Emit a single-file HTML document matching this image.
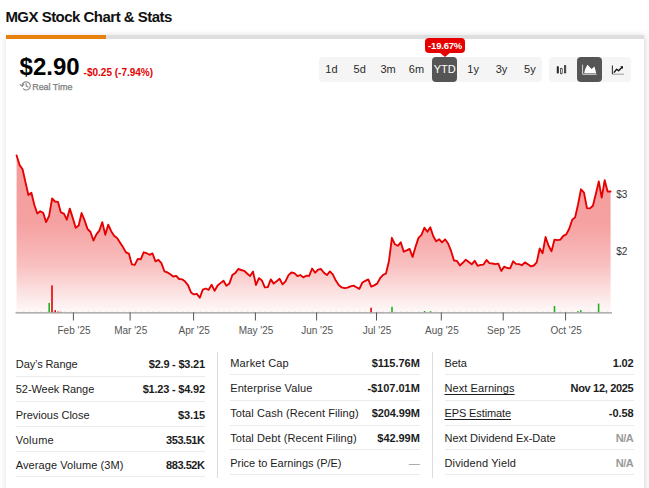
<!DOCTYPE html>
<html lang="en">
<head>
<meta charset="utf-8">
<title>MGX Stock Chart &amp; Stats</title>
<style>
  html, body { margin: 0; padding: 0; }
  body {
    width: 649px; height: 488px; overflow: hidden; position: relative;
    background: #fff; color: #1c1c1c;
    font-family: "Liberation Sans", sans-serif;
  }
  .abs { position: absolute; white-space: nowrap; line-height: 1; }

  /* title */
  #title { left: 5.4px; top: 9.1px; font-size: 15px; font-weight: bold; letter-spacing: -0.52px; color: #111; }

  /* card */
  #card { left: 6px; top: 35px; width: 638.4px; height: 470px; background: #fff;
          box-shadow: 1px 1px 7px rgba(0,0,0,0.17); }
  #bar { left: 0; top: 0; width: 638.4px; height: 4px; background: #dedede; }
  #bar i { display: block; width: 100px; height: 4px; background: #e8800c; }

  /* price header */
  #price { left: 19.6px; top: 55.2px; font-size: 24px; font-weight: bold; letter-spacing: 0px; color: #000; }
  #chg { left: 83.6px; top: 67.7px; font-size: 10px; font-weight: bold; color: #e60000; }
  #rt { left: 32.2px; top: 83.4px; font-size: 9px; color: #7d7d7d; letter-spacing: -0.04px; -webkit-text-stroke: 0.25px #7d7d7d; }

  /* button groups */
  .grp { top: 57.2px; height: 24.7px; background: #f5f5f5; border-radius: 4px; }
  #periods { left: 319.1px; width: 222.6px; }
  #types { left: 549.3px; width: 81.4px; }
  .btn { position: absolute; top: 0; width: 24.6px; height: 24.7px; border-radius: 4px;
         font-size: 11px; line-height: 24.7px; text-align: center; color: #2b2b2b; }
  .btn.on { background: #555; color: #fff; }

  /* tooltip */
  #tip { left: 425.2px; top: 38.1px; width: 39.8px; height: 14.6px; background: #e60000; border-radius: 4px;
         color: #fff; font-size: 9.5px; font-weight: bold; text-align: center; line-height: 15.4px; letter-spacing: -0.2px; }
  #tip:after { content: ""; position: absolute; left: 13.6px; top: 14.4px; border: 6px solid transparent;
         border-top: 5.6px solid #e60000; border-bottom: 0; }

  /* table */
  .tl, .tv { position: absolute; font-size: 11px; line-height: 13px; white-space: nowrap; color: #1c1c1c; }
  .tv.na { color: #9a9a9a; }
  .tl.u { text-decoration: underline; text-underline-offset: 1.5px; text-decoration-thickness: 1px; }
  .hs { position: absolute; height: 1px; background: #ebebeb; }
  .vs { position: absolute; width: 1px; background: #dcdcdc; top: 352px; height: 126px; }

  svg text { font-family: "Liberation Sans", sans-serif; }
</style>
</head>
<body>

<div id="title" class="abs">MGX Stock Chart &amp; Stats</div>

<div id="card" class="abs"><div id="bar" class="abs"><i></i></div></div>

<div id="price" class="abs">$2.90</div>
<div id="chg" class="abs">-$0.25 (-7.94%)</div>
<div id="rt" class="abs">Real Time</div>

<div id="tip" class="abs">-19.67%</div>

<div id="periods" class="abs grp">
  <div class="btn" style="left:0">1d</div>
  <div class="btn" style="left:28.35px">5d</div>
  <div class="btn" style="left:56.7px">3m</div>
  <div class="btn" style="left:85.05px">6m</div>
  <div class="btn on" style="left:113.4px">YTD</div>
  <div class="btn" style="left:141.75px">1y</div>
  <div class="btn" style="left:170.1px">3y</div>
  <div class="btn" style="left:198.45px">5y</div>
</div>

<div id="types" class="abs grp">
  <div class="btn" style="left:0"></div>
  <div class="btn on" style="left:28.2px"></div>
  <div class="btn" style="left:56.8px"></div>
</div>

<!-- chart + icons overlay: coordinates are page pixels -->
<svg class="abs" style="left:0;top:0" width="649" height="488" viewBox="0 0 649 488">
  <defs>
    <linearGradient id="g" x1="0" y1="155" x2="0" y2="312" gradientUnits="userSpaceOnUse">
      <stop offset="0" stop-color="#e60000" stop-opacity="0.40"/>
      <stop offset="0.45" stop-color="#e60000" stop-opacity="0.365"/>
      <stop offset="0.7" stop-color="#e60000" stop-opacity="0.25"/>
      <stop offset="0.86" stop-color="#e60000" stop-opacity="0.125"/>
      <stop offset="1" stop-color="#e60000" stop-opacity="0.025"/>
    </linearGradient>
  </defs>

  <!-- clock / history icon -->
  <g fill="none" stroke="#858585" stroke-width="1.1" stroke-linecap="round" stroke-linejoin="round">
    <path d="M22.1 85.6 A4.1 4.1 0 1 1 23.4 88.9"/>
    <path d="M20.1 84.6 L22.2 86.4 L23.8 84.2"/>
    <path d="M26.2 83.3 V85.9 L28 86.9"/>
  </g>

  <!-- candlestick icon -->
  <g stroke="#222" fill="#222" stroke-width="0.6">
    <rect x="557.1" y="66.8" width="1.3" height="6.2"/>
    <line x1="557.75" y1="66" x2="557.75" y2="73.5"/>
    <rect x="560.5" y="68.7" width="1.7" height="4.6" fill="none" stroke-width="0.7"/>
    <line x1="561.35" y1="67.8" x2="561.35" y2="68.7"/><line x1="561.35" y1="73.3" x2="561.35" y2="74.5"/>
    <rect x="564.4" y="65.7" width="1.4" height="7.2" fill="#777" stroke-width="0.7"/>
    <line x1="565.1" y1="65" x2="565.1" y2="65.7"/>
  </g>

  <!-- area icon (active) -->
  <g>
    <path d="M582.6 64.7 V74.3 H596.6" fill="none" stroke="#fff" stroke-opacity="0.9" stroke-width="0.85"/>
    <path d="M584.2 73.2 L585 69.6 L587.4 64.7 L591.6 68.9 L594.5 66.4 L596.2 73.2 Z" fill="#fff"/>
  </g>

  <!-- line icon -->
  <g fill="none">
    <path d="M612.4 65.6 V74.2 H623.9" stroke="#9a9a9a" stroke-width="1"/>
    <path d="M612.4 65.6 V74" stroke="#333" stroke-width="1"/>
    <path d="M613.9 72.6 L616.7 69.3 L618.6 70.7 L622 67.2" stroke="#111" stroke-width="1.4" stroke-linejoin="round"/>
    <path d="M620.3 66.3 L623 66.2 L622.9 68.9 Z" fill="#111"/>
  </g>

  <!-- chart -->
  <path d="M16.6 155.4 L19.6 165.1 L22.5 169.0 L25.5 182.4 L28.4 195.0 L31.4 192.7 L34.3 204.7 L37.3 213.5 L40.2 211.3 L43.2 212.9 L46.1 222.1 L49.1 215.8 L52.1 198.5 L55.0 201.5 L58.0 201.9 L60.9 212.4 L63.9 213.6 L66.8 219.7 L69.8 208.6 L72.8 218.1 L75.7 227.8 L78.7 225.5 L81.6 213.0 L84.6 220.4 L87.5 228.9 L90.5 232.0 L93.4 240.5 L96.4 234.3 L99.3 230.7 L102.3 222.1 L105.3 234.8 L108.2 224.7 L111.2 231.2 L114.1 235.8 L117.1 238.1 L120.0 242.5 L123.0 247.1 L125.9 252.3 L128.9 253.6 L131.8 264.3 L134.8 264.8 L137.8 258.9 L140.7 259.4 L143.7 252.3 L146.6 253.2 L149.6 254.8 L152.5 253.4 L155.5 261.4 L158.4 259.8 L161.4 263.1 L164.4 271.3 L167.3 272.4 L170.3 274.2 L173.2 276.5 L176.2 275.9 L179.1 279.0 L182.1 279.3 L185.1 281.6 L188.0 285.1 L191.0 292.4 L193.9 294.4 L196.9 293.9 L199.8 297.8 L202.8 289.6 L205.7 288.5 L208.7 289.8 L211.6 284.7 L214.6 290.8 L217.6 285.5 L220.5 283.1 L223.5 280.7 L226.4 285.8 L229.4 283.6 L232.3 275.1 L235.3 273.1 L238.2 269.0 L241.2 270.0 L244.2 270.8 L247.1 273.5 L250.1 276.1 L253.0 271.6 L256.0 285.0 L258.9 278.1 L261.9 280.4 L264.8 287.3 L267.8 287.1 L270.8 279.4 L273.7 283.6 L276.7 281.3 L279.6 278.8 L282.6 284.4 L285.5 281.3 L288.5 275.1 L291.4 272.5 L294.4 273.1 L297.4 276.1 L300.3 275.0 L303.3 277.4 L306.2 275.7 L309.2 275.9 L312.1 268.5 L315.1 272.8 L318.0 269.6 L321.0 269.0 L323.9 272.8 L326.9 275.1 L329.9 271.4 L332.8 274.3 L335.8 280.6 L338.7 285.1 L341.7 287.4 L344.6 288.2 L347.6 287.7 L350.5 286.3 L353.5 285.6 L356.4 287.3 L359.4 288.9 L362.4 282.5 L365.3 280.9 L368.3 279.4 L371.2 286.6 L374.2 285.4 L377.1 283.6 L380.1 278.2 L383.1 274.8 L386.0 273.5 L389.0 260.7 L391.9 237.8 L394.9 244.3 L397.8 245.8 L400.8 242.3 L403.7 251.7 L406.7 250.4 L409.6 248.9 L412.6 257.0 L415.6 246.6 L418.5 237.9 L421.5 234.9 L424.4 227.7 L427.4 231.8 L430.3 227.3 L433.3 236.3 L436.2 241.2 L439.2 239.3 L442.1 242.3 L445.1 239.3 L448.1 243.5 L451.0 250.7 L454.0 260.5 L456.9 260.8 L459.9 265.5 L462.8 262.8 L465.8 259.7 L468.8 262.0 L471.7 264.3 L474.7 260.8 L477.6 265.8 L480.6 264.8 L483.5 264.6 L486.5 260.0 L489.4 263.1 L492.4 263.5 L495.4 264.1 L498.3 263.6 L501.3 271.0 L504.2 266.6 L507.2 268.0 L510.1 268.4 L513.1 261.3 L516.0 263.9 L519.0 264.1 L521.9 265.2 L524.9 262.4 L527.9 264.3 L530.8 266.3 L533.8 265.5 L536.7 262.4 L539.7 248.5 L542.6 253.2 L545.6 237.0 L548.5 245.5 L551.5 251.2 L554.5 239.6 L557.4 240.1 L560.4 239.6 L563.3 235.9 L566.3 234.4 L569.2 228.8 L572.2 219.8 L575.1 217.4 L578.1 204.2 L581.0 189.3 L584.0 192.7 L587.0 208.2 L589.9 208.4 L592.9 205.7 L595.8 194.0 L598.8 181.4 L601.7 197.7 L604.7 180.2 L607.6 191.5 L610.6 191.5 L610.6 312.5 L16.6 312.5 Z" fill="url(#g)"/>
  <line x1="15.5" y1="312.8" x2="612" y2="312.8" stroke="#9a9a9a" stroke-width="1.3"/>
  <line x1="17" y1="311.9" x2="611" y2="311.9" stroke="#e60000" stroke-opacity="0.28" stroke-width="0.6" stroke-dasharray="1.2 4.7"/>
  <rect x="48.4" y="302.9" width="1.6" height="9.3" fill="#1eb41e"/><rect x="51.2" y="285.4" width="1.6" height="26.8" fill="#e60000"/><rect x="54.4" y="310.2" width="1.6" height="2.0" fill="#e60000"/><rect x="57.2" y="311.6" width="1.6" height="0.6" fill="#e60000"/><rect x="60.2" y="311.8" width="1.6" height="0.4" fill="#e60000"/><rect x="370.3" y="307.7" width="1.6" height="4.5" fill="#e60000"/><rect x="391.2" y="306.8" width="1.6" height="5.4" fill="#1eb41e"/><rect x="423.8" y="311.0" width="1.6" height="1.2" fill="#1eb41e"/><rect x="429.7" y="311.2" width="1.6" height="1.0" fill="#1eb41e"/><rect x="553.7" y="306.0" width="1.6" height="6.2" fill="#1eb41e"/><rect x="577.1" y="311.2" width="1.6" height="1.0" fill="#1eb41e"/><rect x="580.0" y="310.2" width="1.6" height="2.0" fill="#1eb41e"/><rect x="597.8" y="303.6" width="1.6" height="8.6" fill="#1eb41e"/>
  <path d="M16.6 155.4 L19.6 165.1 L22.5 169.0 L25.5 182.4 L28.4 195.0 L31.4 192.7 L34.3 204.7 L37.3 213.5 L40.2 211.3 L43.2 212.9 L46.1 222.1 L49.1 215.8 L52.1 198.5 L55.0 201.5 L58.0 201.9 L60.9 212.4 L63.9 213.6 L66.8 219.7 L69.8 208.6 L72.8 218.1 L75.7 227.8 L78.7 225.5 L81.6 213.0 L84.6 220.4 L87.5 228.9 L90.5 232.0 L93.4 240.5 L96.4 234.3 L99.3 230.7 L102.3 222.1 L105.3 234.8 L108.2 224.7 L111.2 231.2 L114.1 235.8 L117.1 238.1 L120.0 242.5 L123.0 247.1 L125.9 252.3 L128.9 253.6 L131.8 264.3 L134.8 264.8 L137.8 258.9 L140.7 259.4 L143.7 252.3 L146.6 253.2 L149.6 254.8 L152.5 253.4 L155.5 261.4 L158.4 259.8 L161.4 263.1 L164.4 271.3 L167.3 272.4 L170.3 274.2 L173.2 276.5 L176.2 275.9 L179.1 279.0 L182.1 279.3 L185.1 281.6 L188.0 285.1 L191.0 292.4 L193.9 294.4 L196.9 293.9 L199.8 297.8 L202.8 289.6 L205.7 288.5 L208.7 289.8 L211.6 284.7 L214.6 290.8 L217.6 285.5 L220.5 283.1 L223.5 280.7 L226.4 285.8 L229.4 283.6 L232.3 275.1 L235.3 273.1 L238.2 269.0 L241.2 270.0 L244.2 270.8 L247.1 273.5 L250.1 276.1 L253.0 271.6 L256.0 285.0 L258.9 278.1 L261.9 280.4 L264.8 287.3 L267.8 287.1 L270.8 279.4 L273.7 283.6 L276.7 281.3 L279.6 278.8 L282.6 284.4 L285.5 281.3 L288.5 275.1 L291.4 272.5 L294.4 273.1 L297.4 276.1 L300.3 275.0 L303.3 277.4 L306.2 275.7 L309.2 275.9 L312.1 268.5 L315.1 272.8 L318.0 269.6 L321.0 269.0 L323.9 272.8 L326.9 275.1 L329.9 271.4 L332.8 274.3 L335.8 280.6 L338.7 285.1 L341.7 287.4 L344.6 288.2 L347.6 287.7 L350.5 286.3 L353.5 285.6 L356.4 287.3 L359.4 288.9 L362.4 282.5 L365.3 280.9 L368.3 279.4 L371.2 286.6 L374.2 285.4 L377.1 283.6 L380.1 278.2 L383.1 274.8 L386.0 273.5 L389.0 260.7 L391.9 237.8 L394.9 244.3 L397.8 245.8 L400.8 242.3 L403.7 251.7 L406.7 250.4 L409.6 248.9 L412.6 257.0 L415.6 246.6 L418.5 237.9 L421.5 234.9 L424.4 227.7 L427.4 231.8 L430.3 227.3 L433.3 236.3 L436.2 241.2 L439.2 239.3 L442.1 242.3 L445.1 239.3 L448.1 243.5 L451.0 250.7 L454.0 260.5 L456.9 260.8 L459.9 265.5 L462.8 262.8 L465.8 259.7 L468.8 262.0 L471.7 264.3 L474.7 260.8 L477.6 265.8 L480.6 264.8 L483.5 264.6 L486.5 260.0 L489.4 263.1 L492.4 263.5 L495.4 264.1 L498.3 263.6 L501.3 271.0 L504.2 266.6 L507.2 268.0 L510.1 268.4 L513.1 261.3 L516.0 263.9 L519.0 264.1 L521.9 265.2 L524.9 262.4 L527.9 264.3 L530.8 266.3 L533.8 265.5 L536.7 262.4 L539.7 248.5 L542.6 253.2 L545.6 237.0 L548.5 245.5 L551.5 251.2 L554.5 239.6 L557.4 240.1 L560.4 239.6 L563.3 235.9 L566.3 234.4 L569.2 228.8 L572.2 219.8 L575.1 217.4 L578.1 204.2 L581.0 189.3 L584.0 192.7 L587.0 208.2 L589.9 208.4 L592.9 205.7 L595.8 194.0 L598.8 181.4 L601.7 197.7 L604.7 180.2 L607.6 191.5 L610.6 191.5" fill="none" stroke="#e60000" stroke-width="1.85" stroke-linejoin="round" stroke-linecap="round"/>
  <g font-size="10" fill="#555"><line x1="73.4" y1="312.5" x2="73.4" y2="320.5" stroke="#555" stroke-width="1"/><text x="74.0" y="333.6" text-anchor="middle">Feb '25</text><line x1="130.1" y1="312.5" x2="130.1" y2="320.5" stroke="#555" stroke-width="1"/><text x="130.7" y="333.6" text-anchor="middle">Mar '25</text><line x1="193.6" y1="312.5" x2="193.6" y2="320.5" stroke="#555" stroke-width="1"/><text x="194.2" y="333.6" text-anchor="middle">Apr '25</text><line x1="255.4" y1="312.5" x2="255.4" y2="320.5" stroke="#555" stroke-width="1"/><text x="256.0" y="333.6" text-anchor="middle">May '25</text><line x1="316.6" y1="312.5" x2="316.6" y2="320.5" stroke="#555" stroke-width="1"/><text x="317.20000000000005" y="333.6" text-anchor="middle">Jun '25</text><line x1="376.5" y1="312.5" x2="376.5" y2="320.5" stroke="#555" stroke-width="1"/><text x="377.1" y="333.6" text-anchor="middle">Jul '25</text><line x1="441.3" y1="312.5" x2="441.3" y2="320.5" stroke="#555" stroke-width="1"/><text x="441.90000000000003" y="333.6" text-anchor="middle">Aug '25</text><line x1="503.2" y1="312.5" x2="503.2" y2="320.5" stroke="#555" stroke-width="1"/><text x="503.8" y="333.6" text-anchor="middle">Sep '25</text><line x1="565.6" y1="312.5" x2="565.6" y2="320.5" stroke="#555" stroke-width="1"/><text x="566.2" y="333.6" text-anchor="middle">Oct '25</text></g>
  <g font-size="10" fill="#333">
    <text x="616.2" y="198.2">$3</text>
    <text x="616.2" y="254.9">$2</text>
  </g>
</svg>

<!-- stats table -->
<span class="tl" id="l00" style="left:15.8px;top:358.0px;letter-spacing:-0.105px">Day’s Range</span><b class="tv" id="v00" style="right:444.0px;top:358.0px;letter-spacing:-0.227px;margin-right:0.227px;">$2.9 - $3.21</b>
<i class="hs" style="left:15.8px;width:189.2px;top:376.0px"></i>
<span class="tl" id="l01" style="left:15.8px;top:383.4px;letter-spacing:-0.067px">52-Week Range</span><b class="tv" id="v01" style="right:444.0px;top:383.4px;letter-spacing:-0.209px;margin-right:0.209px;">$1.23 - $4.92</b>
<i class="hs" style="left:15.8px;width:189.2px;top:400.9px"></i>
<span class="tl" id="l02" style="left:15.8px;top:408.6px;letter-spacing:-0.019px">Previous Close</span><b class="tv" id="v02" style="right:444.0px;top:408.6px;letter-spacing:-0.151px;margin-right:0.151px;">$3.15</b>
<i class="hs" style="left:15.8px;width:189.2px;top:425.9px"></i>
<span class="tl" id="l03" style="left:15.8px;top:433.7px;letter-spacing:0.230px">Volume</span><b class="tv" id="v03" style="right:444.0px;top:433.7px;letter-spacing:-0.441px;margin-right:0.441px;">353.51K</b>
<i class="hs" style="left:15.8px;width:189.2px;top:450.8px"></i>
<span class="tl" id="l04" style="left:15.8px;top:458.7px;letter-spacing:0.081px">Average Volume (3M)</span><b class="tv" id="v04" style="right:444.0px;top:458.7px;letter-spacing:-0.441px;margin-right:0.441px;">883.52K</b>
<i class="hs" style="left:15.8px;width:189.2px;top:475.8px"></i>
<span class="tl" id="l10" style="left:230.2px;top:357.2px;letter-spacing:0.183px">Market Cap</span><b class="tv" id="v10" style="right:229.2px;top:357.2px;letter-spacing:-0.029px;margin-right:0.029px;">$115.76M</b>
<i class="hs" style="left:230.2px;width:189.6px;top:373.9px"></i>
<span class="tl" id="l11" style="left:230.2px;top:382.1px;letter-spacing:0.113px">Enterprise Value</span><b class="tv" id="v11" style="right:229.2px;top:382.1px;letter-spacing:-0.019px;margin-right:0.019px;">-$107.01M</b>
<i class="hs" style="left:230.2px;width:189.6px;top:399.6px"></i>
<span class="tl" id="l12" style="left:230.2px;top:407.0px;letter-spacing:0.076px">Total Cash (Recent Filing)</span><b class="tv" id="v12" style="right:229.2px;top:407.0px;letter-spacing:-0.135px;margin-right:0.135px;">$204.99M</b>
<i class="hs" style="left:230.2px;width:189.6px;top:424.6px"></i>
<span class="tl" id="l13" style="left:230.2px;top:431.8px;letter-spacing:0.090px">Total Debt (Recent Filing)</span><b class="tv" id="v13" style="right:229.2px;top:431.8px;letter-spacing:-0.051px;margin-right:0.051px;">$42.99M</b>
<i class="hs" style="left:230.2px;width:189.6px;top:449.4px"></i>
<span class="tl" id="l14" style="left:230.2px;top:456.7px;letter-spacing:-0.026px">Price to Earnings (P/E)</span><b class="tv na" id="v14" style="right:229.2px;top:456.7px;letter-spacing:-0.200px;margin-right:0.200px;font-weight:normal;">—</b>
<i class="hs" style="left:230.2px;width:189.6px;top:474.3px"></i>
<span class="tl" id="l20" style="left:444.5px;top:357.2px;letter-spacing:-0.067px">Beta</span><b class="tv" id="v20" style="right:15.4px;top:357.2px;letter-spacing:-0.200px;margin-right:0.200px;">1.02</b>
<i class="hs" style="left:444.5px;width:189.1px;top:373.9px"></i>
<span class="tl u" id="l21" style="left:444.5px;top:382.0px;letter-spacing:0.075px">Next Earnings</span><b class="tv" id="v21" style="right:15.4px;top:382.0px;letter-spacing:-0.332px;margin-right:0.332px;">Nov 12, 2025</b>
<i class="hs" style="left:444.5px;width:189.1px;top:399.6px"></i>
<span class="tl u" id="l22" style="left:444.5px;top:406.9px;letter-spacing:-0.114px">EPS Estimate</span><b class="tv" id="v22" style="right:15.4px;top:406.9px;letter-spacing:-0.075px;margin-right:0.075px;">-0.58</b>
<i class="hs" style="left:444.5px;width:189.1px;top:424.6px"></i>
<span class="tl" id="l23" style="left:444.5px;top:431.8px;letter-spacing:-0.010px">Next Dividend Ex-Date</span><b class="tv na" id="v23" style="right:15.4px;top:431.8px;letter-spacing:-0.600px;margin-right:0.600px;">N/A</b>
<i class="hs" style="left:444.5px;width:189.1px;top:449.4px"></i>
<span class="tl" id="l24" style="left:444.5px;top:456.7px;letter-spacing:0.124px">Dividend Yield</span><b class="tv na" id="v24" style="right:15.4px;top:456.7px;letter-spacing:-0.600px;margin-right:0.600px;">N/A</b>
<i class="hs" style="left:444.5px;width:189.1px;top:474.4px"></i>

<i class="vs" style="left:217px"></i><i class="vs" style="left:432.1px"></i>

</body>
</html>
